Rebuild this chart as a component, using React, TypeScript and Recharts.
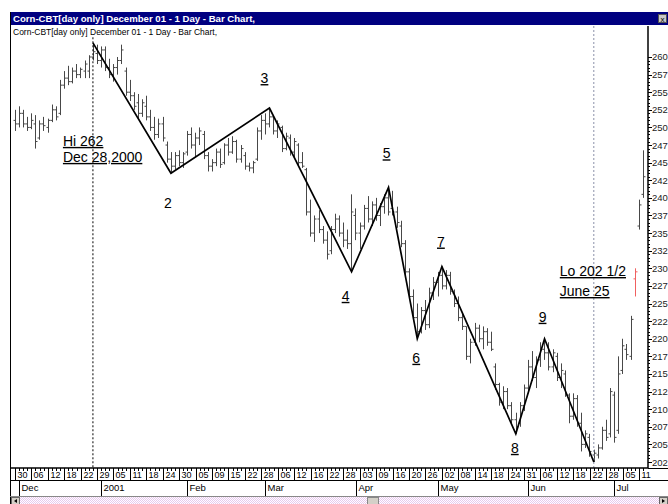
import React from "react";
import {
  Bar,
  ComposedChart,
  Line,
  ReferenceLine,
  Scatter,
  XAxis,
  YAxis,
} from "recharts";

// trading days, Nov 30 2000 .. Jul 12 2001
const MONTH_DAYS: [string, number[]][] = [
  ["11", [30]],
  ["12", [1, 4, 5, 6, 7, 8, 11, 12, 13, 14, 15, 18, 19, 20, 21, 22, 26, 27, 28, 29]],
  ["01", [2, 3, 4, 5, 8, 9, 10, 11, 12, 16, 17, 18, 19, 22, 23, 24, 25, 26, 29, 30, 31]],
  ["02", [1, 2, 5, 6, 7, 8, 9, 12, 13, 14, 15, 16, 20, 21, 22, 23, 26, 27, 28]],
  ["03", [1, 2, 5, 6, 7, 8, 9, 12, 13, 14, 15, 16, 19, 20, 21, 22, 23, 26, 27, 28, 29, 30]],
  ["04", [2, 3, 4, 5, 6, 9, 10, 11, 12, 16, 17, 18, 19, 20, 23, 24, 25, 26, 27, 30]],
  ["05", [1, 2, 3, 4, 7, 8, 9, 10, 11, 14, 15, 16, 17, 18, 21, 22, 23, 24, 25, 29, 30, 31]],
  ["06", [1, 4, 5, 6, 7, 8, 11, 12, 13, 14, 15, 18, 19, 20, 21, 22, 25, 26, 27, 28, 29]],
  ["07", [2, 3, 5, 6, 9, 10, 11, 12]],
];
const DATES = MONTH_DAYS.flatMap(([m, ds]) => ds.map((d) => `${m}/${String(d).padStart(2, "0")}`));

const OPENS = [
  251, 250.5, 252, 250.5, 250, 250.5, 248.5, 250.5, 250, 251,
  252.5, 252, 256, 257, 256.5, 258, 257.5, 258, 258, 260,
  260.5, 259.5, 261, 258.5, 257.5, 258.5, 259.5, 258, 255, 254.5,
  253.5, 252, 253, 251.5, 250, 249, 250.5, 247.5, 245.5, 244.5,
  246, 245, 246.5, 249, 247.5, 248.5, 249, 246, 244.5, 245,
  246.5, 245, 247.5, 246.5, 248, 245.5, 246, 244.5, 244.25, 245.5,
  249.5, 251, 250.5, 251.5, 249.5, 250, 247, 248.5, 246.5, 247.5,
  245, 244, 238, 235, 237, 235.5, 234, 232.5, 235.5, 237,
  235, 234, 233.5, 237.5, 235, 236, 238.5, 237, 239, 237.5,
  238.75, 240, 238.5, 238, 236, 233.5, 229.5, 226, 223, 221,
  224, 222, 226.5, 228, 229, 227.5, 229, 226.5, 225, 223,
  221.75, 217.5, 219.5, 221.5, 220, 221, 219.5, 216, 213.5, 211,
  212.5, 210.5, 208.5, 208, 210.5, 213, 216, 214.5, 217, 218.5,
  218, 216, 217.5, 214.5, 215, 212, 209, 211.5, 208, 205,
  206, 203.5, 203.5, 204.5, 207, 206.5, 212, 207, 215.5, 218.5,
  217.5, 228.5, 236, 240.5,
];
const HIGHS = [
  252.5, 253, 252.5, 251.5, 252, 251.75, 251, 251.5, 251.25, 253.25,
  253, 256.75, 258, 258.75, 258.5, 259, 258.5, 259.5, 260.25, 262,
  261.75, 261.5, 261.5, 259.75, 259, 260, 261.75, 258.5, 256.75, 255,
  254.75, 254, 254.5, 252.5, 251.5, 251.25, 251.5, 248, 246.5, 246.5,
  246.75, 246.5, 249.5, 250, 249.25, 250, 249.5, 246.5, 245.5, 247,
  247, 247.75, 248.5, 248.75, 248.25, 247.5, 246.5, 245, 245.25, 250,
  251.75, 252, 252.75, 251.75, 251, 250.25, 249.25, 249, 248.5, 247.75,
  246.5, 244.25, 239.75, 237.5, 238.25, 236, 235.25, 236, 237.75, 237.5,
  236.5, 235.5, 240.5, 238.5, 236.5, 239, 240.25, 239.5, 240, 239.25,
  240.5, 241.5, 241, 238.75, 236.75, 234, 230, 227, 225, 224.5,
  225.5, 227.25, 228.75, 229.5, 230.25, 229.75, 229.5, 227, 226, 223.5,
  221.75, 220, 222.25, 222, 221.75, 221.5, 221, 216.5, 213.75, 213.25,
  213, 211, 209.5, 211, 213.5, 217, 218.25, 217.5, 219.5, 220,
  219.5, 218.5, 218, 216.5, 215.5, 212.25, 212.25, 212, 209.5, 207,
  206.5, 204.25, 205, 207.5, 208.5, 213, 212.5, 217.5, 220, 219.25,
  223.25, 230, 239.75, 246.75,
];
const LOWS = [
  249.5, 250, 250, 249.5, 249.75, 247, 248.25, 249.5, 249.25, 250.75,
  251, 251.75, 255.5, 256, 256.25, 257, 257, 257, 257, 259.5,
  259, 258.5, 258, 257, 256.5, 257.5, 259, 254.5, 253.75, 252.5,
  251.25, 251.5, 251, 249.5, 248.25, 248.5, 248, 245, 243.5, 244,
  244.5, 244.25, 246, 247, 245.75, 247.5, 245.5, 243.75, 243.75, 244.5,
  244.25, 244.75, 246, 246.25, 245, 245, 244, 243.75, 243.5, 245.25,
  248.25, 249, 250, 249, 248.5, 246.5, 246.75, 246, 245.75, 244.5,
  244.25, 237.5, 234.5, 233.75, 235, 233.5, 231.25, 232, 235, 234.5,
  233, 232.75, 229.5, 234, 232.75, 235.5, 236.5, 236, 236.75, 236,
  237.75, 237.5, 237.5, 235.75, 233, 229, 225.5, 222.5, 220, 220.75,
  221.25, 221.5, 225.5, 226, 227, 227, 226.25, 224.5, 222.5, 221.25,
  217, 216.5, 219, 219.5, 218.5, 219, 218.25, 212.75, 210.5, 210,
  210, 208, 206.5, 207.5, 209.75, 212.5, 214, 213, 216, 217,
  215.5, 215.25, 214, 213, 211.75, 208, 208.5, 207.5, 204, 204.5,
  203.25, 202.5, 203, 204.25, 205.5, 206, 205.25, 206.5, 215, 217,
  217, 226, 235.5, 240,
];
const CLOSES = [
  250.5, 252, 250.5, 250, 251, 248, 250.5, 250.25, 251, 252.5,
  251.5, 256, 257, 256.5, 258, 257.5, 258.25, 259, 260, 260.75,
  259.5, 261, 258.5, 257.5, 258.5, 259.5, 261, 255, 254.5, 253,
  252, 253.5, 251.5, 250, 249, 250.5, 248.5, 245.5, 244.5, 246,
  245, 246.25, 249, 247.5, 248.5, 249.5, 246, 244.5, 245, 246.5,
  244.75, 247.5, 246.5, 248, 245.5, 247, 244.5, 244.25, 245, 249.5,
  251, 250.5, 251.5, 249.5, 250.5, 247, 248.75, 246.5, 248, 245,
  244.5, 238, 235, 237, 235.5, 234, 232, 235.5, 237, 235,
  234, 233.5, 238, 235, 236, 238.5, 237, 239, 237.5, 238.75,
  240, 238, 238, 236.5, 233.5, 229.5, 226, 223, 221, 224,
  222, 226.5, 228, 229, 227.5, 229, 226.75, 225, 223, 221.75,
  217.5, 219.5, 221.5, 220, 221, 219.5, 218.5, 213.5, 211, 212.5,
  210.5, 208.5, 207.5, 210.5, 213, 216, 214.5, 217, 218.5, 218,
  216, 218, 214.5, 215.5, 212, 209, 211.5, 208, 205, 206.5,
  204, 203.75, 204.5, 207, 206, 212.5, 206, 215, 219, 217.75,
  222.75, 229.5, 239, 243,
];

// swing points joined by the black zig-zag
const PIVOT_DATES = ["12/28", "01/26", "03/02", "03/30", "04/12", "04/24", "05/02", "05/29", "06/07", "06/25"];
const PIVOT_PRICES = [262, 243.5, 252.75, 229.5, 241.5, 220, 230.25, 206.5, 220, 202.5];

const DAY_LABELS = [
  "11/30", "12/06", "12/12", "12/18", "12/22", "12/29", "01/05", "01/11", "01/18", "01/24",
  "01/30", "02/05", "02/09", "02/15", "02/22", "02/28", "03/06", "03/12", "03/16", "03/22",
  "03/28", "04/03", "04/09", "04/16", "04/20", "04/26", "05/02", "05/08", "05/14", "05/18",
  "05/24", "05/31", "06/06", "06/12", "06/18", "06/22", "06/28", "07/05", "07/11",
];
const MONTH_MARKS: [string, string][] = [
  ["12/01", "Dec"], ["01/02", "2001"], ["02/01", "Feb"], ["03/01", "Mar"],
  ["04/02", "Apr"], ["05/01", "May"], ["06/01", "Jun"], ["07/02", "Jul"],
];
const Y_MAJOR = [
  202.5, 205, 207.5, 210, 212.5, 215, 217.5, 220, 222.5, 225, 227.5, 230,
  232.5, 235, 237.5, 240, 242.5, 245, 247.5, 250, 252.5, 255, 257.5, 260,
];
const Y_TICKS = Y_MAJOR.flatMap((v) => (v < 260 ? [v, v + 0.5, v + 1, v + 1.5, v + 2] : [v]));

const HI_DATE = "12/28";
const LO_DATE = "06/25";
const LAST_DATE = "07/10";

const NOTES = [
  { date: "01/26", text: "2", dx: -3, dy: 35, anchor: "middle", underline: false },
  { date: "03/02", text: "3", dx: -5, dy: -25, anchor: "middle", underline: true },
  { date: "03/30", text: "4", dx: -6, dy: 29, anchor: "middle", underline: true },
  { date: "04/12", text: "5", dx: -2, dy: -29, anchor: "middle", underline: true },
  { date: "04/24", text: "6", dx: -1, dy: 24, anchor: "middle", underline: true },
  { date: "05/02", text: "7", dx: -1, dy: -20, anchor: "middle", underline: true },
  { date: "05/29", text: "8", dx: -1, dy: 19, anchor: "middle", underline: true },
  { date: "06/07", text: "9", dx: -2, dy: -17, anchor: "middle", underline: true },
  { date: "12/28", text: "Hi 262", dx: -30, dy: 103, anchor: "start", underline: true },
  { date: "12/28", text: "Dec 28,2000", dx: -30, dy: 119, anchor: "start", underline: true },
  { date: "06/25", text: "Lo 202 1/2", dx: -34, dy: -186, anchor: "start", underline: true },
  { date: "06/25", text: "June 25", dx: -34, dy: -166, anchor: "start", underline: true },
];

const FONT = "'Liberation Sans', Arial, sans-serif";

const data = DATES.map((date, i) => {
  const k = PIVOT_DATES.indexOf(date);
  return {
    i,
    date,
    open: OPENS[i],
    high: HIGHS[i],
    low: LOWS[i],
    close: CLOSES[i],
    range: [LOWS[i], HIGHS[i]],
    wave: k >= 0 ? PIVOT_PRICES[k] : null,
  };
});

const notes = NOTES.map((n) => ({
  ...n,
  i: DATES.indexOf(n.date),
  p: PIVOT_PRICES[PIVOT_DATES.indexOf(n.date)],
}));

function OhlcBar(props: any) {
  const { x, y, width, height } = props;
  const d = props.payload ?? props;
  if (d == null || d.high == null) return null;
  const top = Math.min(y, y + height);
  const h = Math.abs(height);
  const py = (v: number) => top + ((d.high - v) / (d.high - d.low)) * h;
  const cx = Math.round(x + width / 2) + 0.5;
  const color = d.date === LAST_DATE ? "#f06060" : "#484848";
  return (
    <g stroke={color} strokeWidth={1}>
      <line x1={cx} x2={cx} y1={top} y2={top + h} />
      <line x1={cx - 2} x2={cx} y1={py(d.open)} y2={py(d.open)} />
      <line x1={cx} x2={cx + 2} y1={py(d.close)} y2={py(d.close)} />
    </g>
  );
}

function Note(props: any) {
  const { cx, cy, payload } = props;
  if (cx == null || !payload) return null;
  return (
    <text
      x={cx + payload.dx}
      y={cy + payload.dy}
      textAnchor={payload.anchor}
      fontSize={14}
      fontFamily={FONT}
      fill="#000"
      style={{ textDecoration: payload.underline ? "underline" : "none" }}
    >
      {payload.text}
    </text>
  );
}

function DayTick(props: any) {
  const { x, y, payload } = props;
  const date = DATES[payload.value];
  const label = DAY_LABELS.includes(date);
  const month = MONTH_MARKS.find((m) => m[0] === date);
  const px = Math.round(x) + 0.5;
  return (
    <g>
      <line x1={px} x2={px} y1={y} y2={y + (label ? 12 : 3)} stroke="#000" />
      {label && (
        <text x={px + 2} y={y + 10} fontSize={9} fontFamily={FONT} fill="#000">
          {date.slice(3)}
        </text>
      )}
      {month && (
        <g>
          <line x1={px} x2={px} y1={y + 12} y2={y + 28} stroke="#000" />
          <text x={px + 2} y={y + 23} fontSize={9.5} fontFamily={FONT} fill="#000">
            {month[1]}
          </text>
        </g>
      )}
    </g>
  );
}

function PriceTick(props: any) {
  const { x, y, payload } = props;
  const v = payload.value;
  const major = Y_MAJOR.includes(v);
  const py = Math.round(y) + 0.5;
  return (
    <g>
      <line x1={x} x2={x + (major ? 4 : 2)} y1={py} y2={py} stroke="#000" />
      {major && (
        <text x={x + 4} y={y + 3.5} fontSize={9.5} fontFamily={FONT} fill="#222">
          {Math.floor(v)}
        </text>
      )}
    </g>
  );
}

function Frame() {
  return (
    <svg
      width={668}
      height={504}
      style={{ position: "absolute", left: 0, top: 0, pointerEvents: "none" }}
    >
      <defs>
        <pattern id="dither" width={2} height={2} patternUnits="userSpaceOnUse">
          <rect width={2} height={2} fill="#fff" />
          <rect width={1} height={1} fill="#e8c8ee" />
          <rect x={1} y={1} width={1} height={1} fill="#e8c8ee" />
        </pattern>
      </defs>
      <rect x={10} y={12} width={658} height={13} fill="#000080" />
      <text x={13} y={22} fontSize={9.6} fontWeight="bold" fontFamily={FONT} fill="#fff">
        Corn-CBT[day only] December 01 - 1 Day - Bar Chart,
      </text>
      <rect x={658.5} y={14.5} width={8} height={8} fill="#c8c8c8" stroke="#555" />
      <text x={662.5} y={21.5} fontSize={8} textAnchor="middle" fontFamily={FONT} fill="#000">
        x
      </text>
      <text x={13} y={35} fontSize={8.5} fontFamily={FONT} fill="#000">
        Corn-CBT[day only] December 01 - 1 Day - Bar Chart,
      </text>
      <line x1={10.5} x2={10.5} y1={12} y2={504} stroke="#000" />
      <line x1={648} x2={668} y1={468.5} y2={468.5} stroke="#000" />
      <line x1={10} x2={668} y1={480.5} y2={480.5} stroke="#000" />
      <line x1={10} x2={668} y1={496.5} y2={496.5} stroke="#888" />
      <rect x={11} y={497} width={657} height={7} fill="url(#dither)" />
      <rect x={11.5} y={497.5} width={8} height={7} fill="#d4d0c8" stroke="#666" />
      <path d="M17 499 L14 501 L17 503 Z" fill="#000" />
      <rect x={367.5} y={497.5} width={11} height={7} fill="#d4d0c8" stroke="#888" />
      <rect x={659.5} y={497.5} width={8} height={7} fill="#d4d0c8" stroke="#666" />
      <path d="M662 499 L665 501 L662 503 Z" fill="#000" />
    </svg>
  );
}

export default function App() {
  const hi = DATES.indexOf(HI_DATE);
  const lo = DATES.indexOf(LO_DATE);
  return (
    <div
      style={{
        position: "absolute",
        left: 0,
        top: 0,
        width: 668,
        height: 504,
        background: "#fff",
        fontFamily: FONT,
      }}
    >
      <ComposedChart
        width={668}
        height={504}
        data={data}
        margin={{ top: 26, right: 0, bottom: 8, left: 10 }}
      >
        <XAxis
          xAxisId="d"
          dataKey="i"
          type="number"
          domain={[-1.2, 154.2]}
          allowDataOverflow
          ticks={DATES.map((_, i) => i)}
          interval={0}
          height={28}
          tickSize={0}
          tickMargin={0}
          tickLine={false}
          tick={<DayTick />}
          axisLine={{ stroke: "#000", strokeWidth: 1.5 }}
        />
        <YAxis
          orientation="right"
          type="number"
          domain={[201.65, 264.4]}
          allowDataOverflow
          ticks={Y_TICKS}
          interval={0}
          width={20}
          tickSize={0}
          tickMargin={0}
          tickLine={false}
          tick={<PriceTick />}
          axisLine={{ stroke: "#000", strokeWidth: 1.5 }}
        />
        <ReferenceLine
          xAxisId="d"
          segment={[
            { x: hi, y: 262.8 },
            { x: hi, y: 201.65 },
          ]}
          stroke="#000"
          strokeDasharray="2 2"
        />
        <ReferenceLine xAxisId="d" x={lo} stroke="#8a90a8" strokeDasharray="2 2" />
        <Bar
          xAxisId="d"
          dataKey="range"
          barSize={5}
          shape={<OhlcBar />}
          isAnimationActive={false}
        />
        <Line
          xAxisId="d"
          dataKey="wave"
          connectNulls
          stroke="#000"
          strokeWidth={1.7}
          dot={false}
          activeDot={false}
          isAnimationActive={false}
        />
        <Scatter
          xAxisId="d"
          data={notes}
          dataKey="p"
          shape={<Note />}
          isAnimationActive={false}
        />
      </ComposedChart>
      <Frame />
    </div>
  );
}
